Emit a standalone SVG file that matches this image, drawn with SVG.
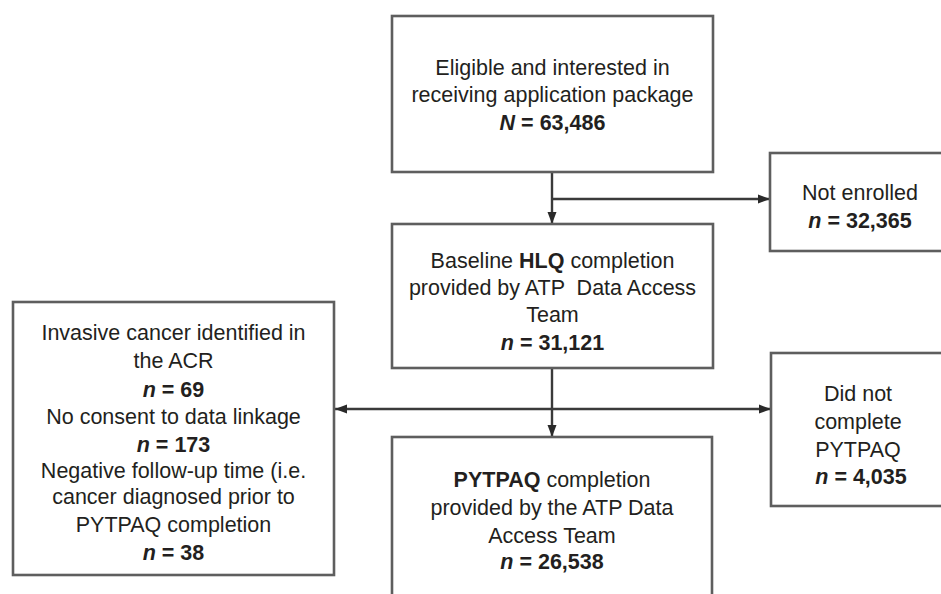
<svg xmlns="http://www.w3.org/2000/svg" width="941" height="594" viewBox="0 0 941 594">
<style>
.box{fill:#fff;stroke:#5e5e5e;stroke-width:2.6}
.t{font-family:"Liberation Sans",Arial,sans-serif;font-size:21.5px;fill:#231f20;text-anchor:middle}
.b{font-weight:bold}
.con{stroke:#3a3a3a;stroke-width:2.4;fill:none}
</style>
<defs>
<marker id="ah" viewBox="0 0 12 10" refX="12" refY="5" markerWidth="12" markerHeight="10" markerUnits="userSpaceOnUse" orient="auto-start-reverse">
<path d="M0,0.5 L12,5 L0,9.5 z" fill="#2a2a2a"/>
</marker>
</defs>
<rect width="941" height="594" fill="#fff"/>
<g id="connectors">
<line class="con" x1="552" y1="172" x2="552" y2="224" marker-end="url(#ah)"/>
<line class="con" x1="552" y1="199" x2="770" y2="199" marker-end="url(#ah)"/>
<line class="con" x1="552" y1="368" x2="552" y2="437" marker-end="url(#ah)"/>
<line class="con" x1="335" y1="409" x2="771" y2="409" marker-start="url(#ah)" marker-end="url(#ah)"/>
</g>
<g id="eligible">
<rect class="box" x="392" y="16" width="321" height="156"/>
<text class="t" x="552.5" y="75">Eligible and interested in</text>
<text class="t" x="552.5" y="102">receiving application package</text>
<text class="t b" x="552.5" y="130"><tspan font-style="italic">N</tspan> = 63,486</text>
</g>
<g id="not-enrolled">
<rect class="box" x="770" y="153" width="185" height="98"/>
<text class="t" x="860" y="200">Not enrolled</text>
<text class="t b" x="860" y="228"><tspan font-style="italic">n</tspan> = 32,365</text>
</g>
<g id="baseline">
<rect class="box" x="392" y="224" width="321" height="144"/>
<text class="t" x="552.5" y="268">Baseline <tspan class="b">HLQ</tspan> completion</text>
<text class="t" x="552.5" y="295" xml:space="preserve">provided by ATP  Data Access</text>
<text class="t" x="552.5" y="322">Team</text>
<text class="t b" x="552.5" y="350"><tspan font-style="italic">n</tspan> = 31,121</text>
</g>
<g id="excluded">
<rect class="box" x="13" y="302" width="321" height="273"/>
<text class="t" x="173.5" y="340">Invasive cancer identified in</text>
<text class="t" x="173.5" y="368">the ACR</text>
<text class="t b" x="173.5" y="397"><tspan font-style="italic">n</tspan> = 69</text>
<text class="t" x="173.5" y="424">No consent to data linkage</text>
<text class="t b" x="173.5" y="452"><tspan font-style="italic">n</tspan> = 173</text>
<text class="t" x="173.5" y="478">Negative follow-up time (i.e.</text>
<text class="t" x="173.5" y="504">cancer diagnosed prior to</text>
<text class="t" x="173.5" y="532">PYTPAQ completion</text>
<text class="t b" x="173.5" y="560"><tspan font-style="italic">n</tspan> = 38</text>
</g>
<g id="not-complete">
<rect class="box" x="771" y="353" width="185" height="153"/>
<text class="t" x="858" y="401">Did not</text>
<text class="t" x="858" y="429">complete</text>
<text class="t" x="858" y="457">PYTPAQ</text>
<text class="t b" x="861" y="484"><tspan font-style="italic">n</tspan> = 4,035</text>
</g>
<g id="pytpaq">
<rect class="box" x="392" y="437" width="320" height="170"/>
<text class="t" x="552" y="487"><tspan class="b">PYTPAQ</tspan> completion</text>
<text class="t" x="552" y="515">provided by the ATP Data</text>
<text class="t" x="552" y="543">Access Team</text>
<text class="t b" x="552" y="569"><tspan font-style="italic">n</tspan> = 26,538</text>
</g>
</svg>
